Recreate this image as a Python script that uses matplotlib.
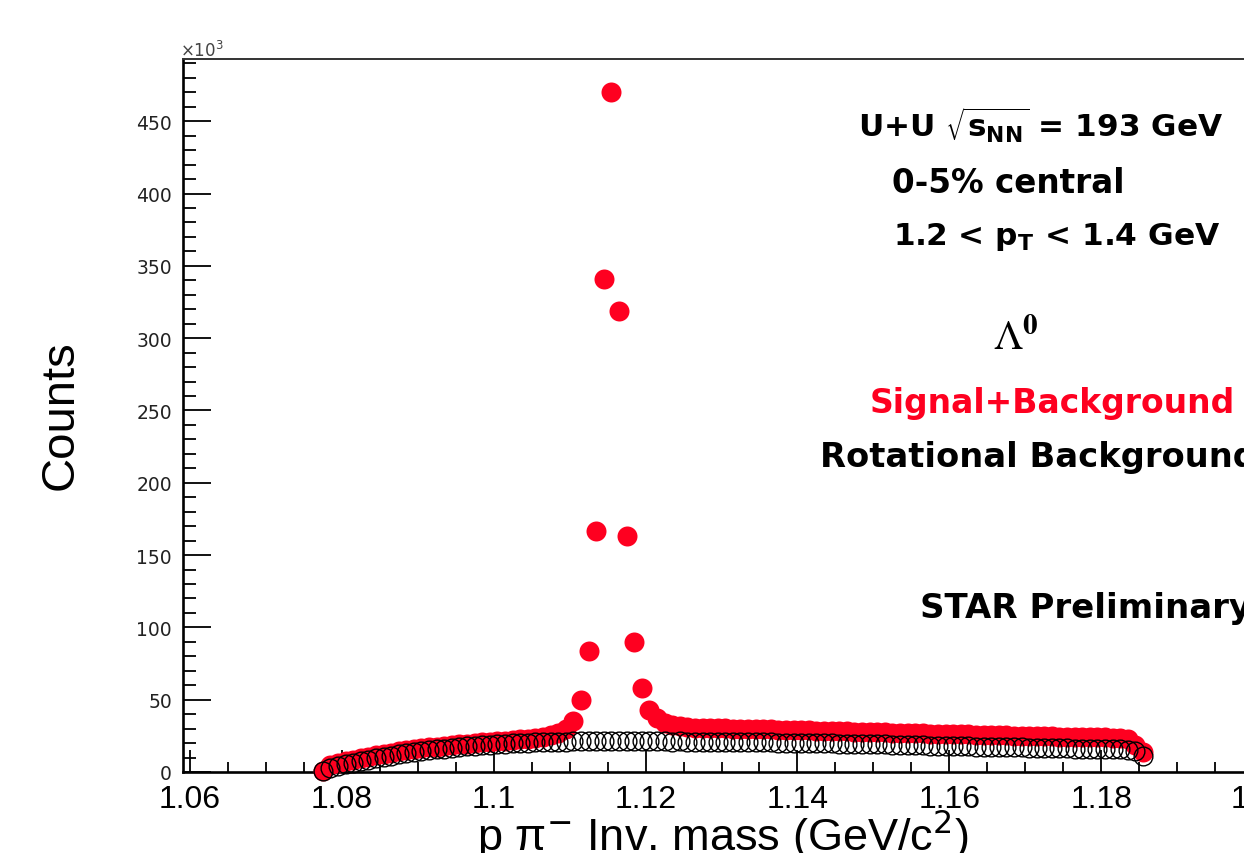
import numpy as np
import matplotlib
matplotlib.use("Agg")
import matplotlib.pyplot as plt
from matplotlib.ticker import MultipleLocator, FuncFormatter

plt.rcParams["mathtext.fontset"] = "dejavusans"

# p pi- invariant mass, 1 MeV bins (centres, GeV)
mass = np.round(np.arange(1.0775, 1.1860, 0.001), 4)

# same-event pairs, counts in units of 10^3
sig_bkg = [
    0.8, 4.5, 6.0, 7.3, 8.5, 9.6, 10.6, 11.6, 12.5, 13.4,
    14.2, 15.0, 15.7, 16.4, 17.0, 17.6, 18.2, 18.7, 19.2, 19.7,
    20.1, 20.5, 20.9, 21.3, 21.7, 22.1, 22.5, 23.0, 23.6, 24.3,
    25.3, 27.0, 30.0, 35.5, 49.5, 83.5, 166.5, 341.0, 470.0, 319.0,
    163.0, 90.0, 58.0, 43.0, 37.0, 34.0, 32.5, 31.5, 31.0, 30.7,
    30.5, 30.4, 30.2, 30.1, 30.0, 29.9, 29.8, 29.6, 29.5, 29.4,
    29.3, 29.1, 29.0, 28.9, 28.8, 28.6, 28.5, 28.4, 28.2, 28.1,
    28.0, 27.8, 27.7, 27.6, 27.4, 27.3, 27.2, 27.0, 26.9, 26.8,
    26.6, 26.5, 26.4, 26.2, 26.1, 26.0, 25.9, 25.7, 25.6, 25.5,
    25.4, 25.2, 25.1, 25.0, 24.9, 24.7, 24.6, 24.5, 24.4, 24.3,
    24.2, 24.1, 24.0, 23.9, 23.8, 23.6, 22.5, 19.0, 14.0,
]

# rotated-track background, counts in units of 10^3
rot_bkg = [
    0.5, 2.5, 4.0, 5.3, 6.5, 7.6, 8.6, 9.6, 10.5, 11.4,
    12.2, 13.0, 13.7, 14.4, 15.0, 15.6, 16.2, 16.7, 17.2, 17.7,
    18.1, 18.5, 18.9, 19.2, 19.5, 19.8, 20.0, 20.2, 20.4, 20.6,
    20.8, 20.9, 21.0, 21.1, 21.2, 21.3, 21.2, 21.4, 21.3, 21.4,
    21.3, 21.2, 21.3, 21.2, 21.1, 21.2, 21.0, 21.1, 21.0, 20.9,
    21.0, 20.8, 20.9, 20.7, 20.8, 20.6, 20.7, 20.5, 20.4, 20.5,
    20.3, 20.2, 20.3, 20.1, 20.0, 19.9, 20.0, 19.8, 19.7, 19.6,
    19.5, 19.4, 19.3, 19.2, 19.1, 19.0, 18.8, 18.7, 18.6, 18.4,
    18.3, 18.2, 18.0, 17.9, 17.8, 17.7, 17.6, 17.5, 17.4, 17.3,
    17.2, 17.1, 17.0, 16.9, 16.8, 16.6, 16.5, 16.4, 16.3, 16.2,
    16.1, 16.0, 15.9, 15.8, 15.7, 15.6, 15.4, 14.5, 11.0,
]

W, H = 1244, 854
red = "#fe0020"

fig = plt.figure(figsize=(W / 100, H / 100), dpi=100)
# frame runs a little past the right edge of the canvas
ax = fig.add_axes([183 / W, 1 - 773 / H, (1260 - 183) / W, (773 - 60) / H])

ax.plot(mass, sig_bkg, "o", color=red, ms=14.4, mew=0, clip_on=False, zorder=3)
ax.plot(mass, rot_bkg, "o", mfc="none", mec="black", ms=13.5, mew=1.0,
        clip_on=False, zorder=4)

ax.set_xlim(1.0591, 1.2009)
ax.set_ylim(0, 493)

ax.xaxis.set_major_locator(MultipleLocator(0.02))
ax.xaxis.set_minor_locator(MultipleLocator(0.005))
ax.yaxis.set_major_locator(MultipleLocator(50))
ax.yaxis.set_minor_locator(MultipleLocator(10))
ax.xaxis.set_major_formatter(FuncFormatter(lambda v, p: "%g" % round(v, 3)))
ax.yaxis.set_major_formatter(FuncFormatter(lambda v, p: "%d" % v))

ax.tick_params(axis="y", which="major", direction="in", length=20, width=1.3,
               pad=8, labelsize=13.5, labelcolor="#222222")
ax.tick_params(axis="y", which="minor", direction="in", length=9, width=1.3)
ax.tick_params(axis="x", which="major", direction="in", length=16, width=1.3,
               pad=9, labelsize=23)
ax.tick_params(axis="x", which="minor", direction="in", length=7, width=1.3)
for lab in ax.get_xticklabels():
    lab.set_family("Liberation Sans")
for lab in ax.get_yticklabels():
    lab.set_family("DejaVu Sans")

ax.spines["left"].set_linewidth(1.9)
ax.spines["bottom"].set_linewidth(1.9)
ax.spines["top"].set_linewidth(1.4)
ax.spines["top"].set_color("#333333")
ax.spines["right"].set_visible(False)

fig.text(180 / W, 1 - 57 / H, r"$\times10^{3}$", fontsize=12, color="#444444",
         ha="left", va="baseline")

fig.text(61 / W, 1 - 415 / H, "Counts", family="Liberation Sans", fontsize=34,
         rotation=90, ha="center", va="center")
fig.text(723 / W, 1 - 851 / H, r"p π$^{-}$ Inv. mass (GeV/c$^{2}$)",
         family="Liberation Sans", fontsize=32.5, ha="center", va="baseline")


def label(x, y, s, **kw):
    opts = dict(family="DejaVu Sans", weight="bold", fontsize=23.5,
                ha="left", va="baseline")
    opts.update(kw)
    fig.text(x / W, 1 - y / H, s, **opts)


label(858, 138, r"U+U $\sqrt{\mathbf{s}_{\mathbf{NN}}}$ = 193 GeV", fontsize=22.4)
label(892, 193, "0-5% central")
label(893, 245, r"1.2 < $\mathbf{p}_{\mathbf{T}}$ < 1.4 GeV", fontsize=22.5)
label(993, 350, r"$\Lambda^{\mathbf{0}}$", math_fontfamily="stix", fontsize=30,
      weight="normal")
label(870, 413, "Signal+Background", color=red, fontsize=23.8)
label(820, 467, "Rotational Background", fontsize=24.3)
label(920, 618, "STAR Preliminary", fontsize=24.5)

fig.savefig("out.png", dpi=100)
